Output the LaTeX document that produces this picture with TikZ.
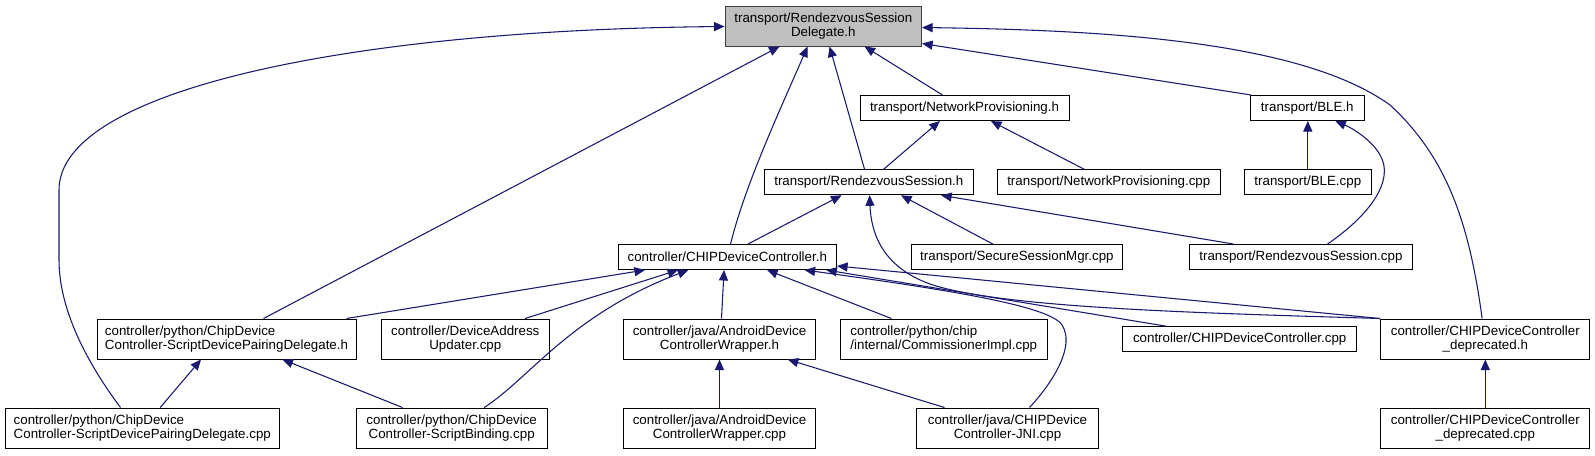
\documentclass[tikz,border=0pt]{standalone}
\usepackage{fontspec}
\setmainfont{Liberation Sans}
\usetikzlibrary{arrows.meta,calc}
\definecolor{edgeblue}{HTML}{191970}
\definecolor{rootgray}{HTML}{BFBFBF}
\begin{document}
\begin{tikzpicture}[x=0.75pt,y=-0.75pt,
  sz/.style 2 args={minimum width=#1*0.75pt, minimum height=#2*0.75pt},
  box/.style={draw=black, line width=0.75pt, inner sep=0pt, font=\fontsize{10}{10.5}\selectfont, align=center},
  rootbox/.style={box, fill=rootgray, draw=black!75},
  edge/.style={draw=edgeblue, line width=0.8pt, -{Triangle[length=7.9pt,width=6.8pt]}},
]
\useasboundingbox (0,0) rectangle (1595,455);
\fill[white] (0,0) rectangle (1595,455);

\node[rootbox, sz={196.5}{40}] (root) at (823.3,26) {transport/RendezvousSession\\Delegate.h};
\node[box, sz={209}{25}] (netprovh) at (964.5,108) {transport/NetworkProvisioning.h};
\node[box, sz={113.4}{25}] (bleh) at (1307.3,108) {transport/BLE.h};
\node[box, sz={208.5}{25}] (rsh) at (868.8,182.3) {transport/RendezvousSession.h};
\node[box, sz={222.4}{25}] (netprovcpp) at (1108.8,182.3) {transport/NetworkProvisioning.cpp};
\node[box, sz={126.5}{25}] (blecpp) at (1307.8,182.3) {transport/BLE.cpp};
\node[box, sz={218.5}{25}] (cdch) at (727.3,257) {controller/CHIPDeviceController.h};
\node[box, sz={210.8}{25}] (ssm) at (1016.9,257) {transport/SecureSessionMgr.cpp};
\node[box, sz={223}{25}] (rscpp) at (1300.9,257) {transport/RendezvousSession.cpp};
\node[box, align=left, sz={259}{40}] (pdh) at (226.5,339) {controller/python/ChipDevice\\Controller-ScriptDevicePairingDelegate.h};
\node[box, sz={168.5}{40}] (dau) at (465.3,339) {controller/DeviceAddress\\Updater.cpp};
\node[box, sz={192}{40}] (awh) at (719.5,339) {controller/java/AndroidDevice\\ControllerWrapper.h};
\node[box, align=left, sz={207}{40}] (comm) at (943.8,339) {controller/python/chip\\/internal/CommissionerImpl.cpp};
\node[box, sz={234}{25}] (cdccpp) at (1239.7,339.2) {controller/CHIPDeviceController.cpp};
\node[box, sz={209.3}{40}] (deph) at (1485.3,339) {controller/CHIPDeviceController\\\_deprecated.h};
\node[box, align=left, sz={274.6}{40}] (pdcpp) at (142.3,428) {controller/python/ChipDevice\\Controller-ScriptDevicePairingDelegate.cpp};
\node[box, sz={191.4}{40}] (sbcpp) at (451.7,428) {controller/python/ChipDevice\\Controller-ScriptBinding.cpp};
\node[box, sz={192}{40}] (awcpp) at (719.5,428) {controller/java/AndroidDevice\\ControllerWrapper.cpp};
\node[box, sz={182.2}{40}] (jni) at (1007.5,428) {controller/java/CHIPDevice\\Controller-JNI.cpp};
\node[box, sz={209.3}{40}] (depcpp) at (1485.3,428) {controller/CHIPDeviceController\\\_deprecated.cpp};

% edges into root
\draw[edge] ($(pdcpp.north west)+(116,0)$) .. controls (100,380) and (59,320) .. (59,260) -- (59,190) .. controls (59,90) and (350,30) .. ($(root.north west)+(0,21)$);
\draw[edge] ($(pdh.north west)+(167,0)$) -- ($(root.south west)+(55,0)$);
\draw[edge] ($(cdch.north west)+(113,0)$) .. controls (745,185) and (780,110) .. ($(root.south west)+(83,0)$);
\draw[edge] ($(rsh.north west)+(100.5,0)$) -- ($(root.south west)+(105,0)$);
\draw[edge] ($(netprovh.north west)+(83,0)$) -- ($(root.south west)+(140,0)$);
\draw[edge] ($(bleh.north west)+(1,0)$) -- ($(root.south east)+(0,-3)$);
\draw[edge] ($(deph.north west)+(102,0)$) .. controls (1470,230) and (1450,160) .. (1390,105) .. controls (1300,40) and (1100,30) .. ($(root.north east)+(0,22)$);
% netprovh, bleh
\draw[edge] ($(rsh.north west)+(119.5,0)$) -- ($(netprovh.south west)+(80.4,0)$);
\draw[edge] ($(netprovcpp.north west)+(87.2,0)$) -- ($(netprovh.south west)+(131.4,0)$);
\draw[edge] (blecpp.north) -- (blecpp.north |- bleh.south);
\draw[edge] ($(rscpp.north west)+(138.6,0)$) .. controls (1370,215) and (1395,180) .. (1380,155) .. controls (1372,140) and (1352,128) .. ($(bleh.south west)+(85.2,0)$);
% rsh
\draw[edge] ($(cdch.north west)+(130.4,0)$) -- ($(rsh.south west)+(77.5,0)$);
\draw[edge] ($(ssm.north west)+(81.8,0)$) -- ($(rsh.south west)+(137,0)$);
\draw[edge] ($(rscpp.north west)+(44.4,0)$) -- ($(rsh.south west)+(177.1,0)$);
\draw[edge] (deph.north west) .. controls (1200,313) and (1000,308) .. (930,284) .. controls (880,266) and (871,230) .. ($(rsh.south west)+(105.5,0)$);
% cdch
\draw[edge] ($(pdh.north west)+(250,0)$) -- ($(cdch.south west)+(27.4,0)$);
\draw[edge] ($(dau.north west)+(144.5,0)$) -- ($(cdch.south west)+(60.6,0)$);
\draw[edge] ($(sbcpp.north west)+(128.7,0)$) .. controls (530,378) and (570,315) .. ($(cdch.south west)+(70.8,0)$);
\draw[edge] ($(awh.north west)+(98.5,0)$) -- ($(cdch.south west)+(106.5,0)$);
\draw[edge] ($(comm.north west)+(51.6,0)$) -- ($(cdch.south west)+(149.5,0)$);
\draw[edge] ($(jni.north west)+(113.6,0)$) .. controls (1055,380) and (1075,345) .. (1062,325) .. controls (1050,306) and (950,290) .. ($(cdch.south west)+(187,0)$);
\draw[edge] ($(cdccpp.north west)+(44,0)$) -- ($(cdch.south west)+(208.7,0)$);
\draw[edge] (deph.north west) -- ($(cdch.south east)+(0,-4)$);
% bottom
\draw[edge] ($(pdcpp.north west)+(155.7,0)$) -- ($(pdh.south west)+(104.5,0)$);
\draw[edge] ($(sbcpp.north west)+(47,0)$) -- ($(pdh.south west)+(186,0)$);
\draw[edge] (awcpp.north) -- (awh.south);
\draw[edge] ($(jni.north west)+(28.6,0)$) -- ($(awh.south west)+(164.8,0)$);
\draw[edge] (depcpp.north) -- (deph.south);
\end{tikzpicture}
\end{document}
